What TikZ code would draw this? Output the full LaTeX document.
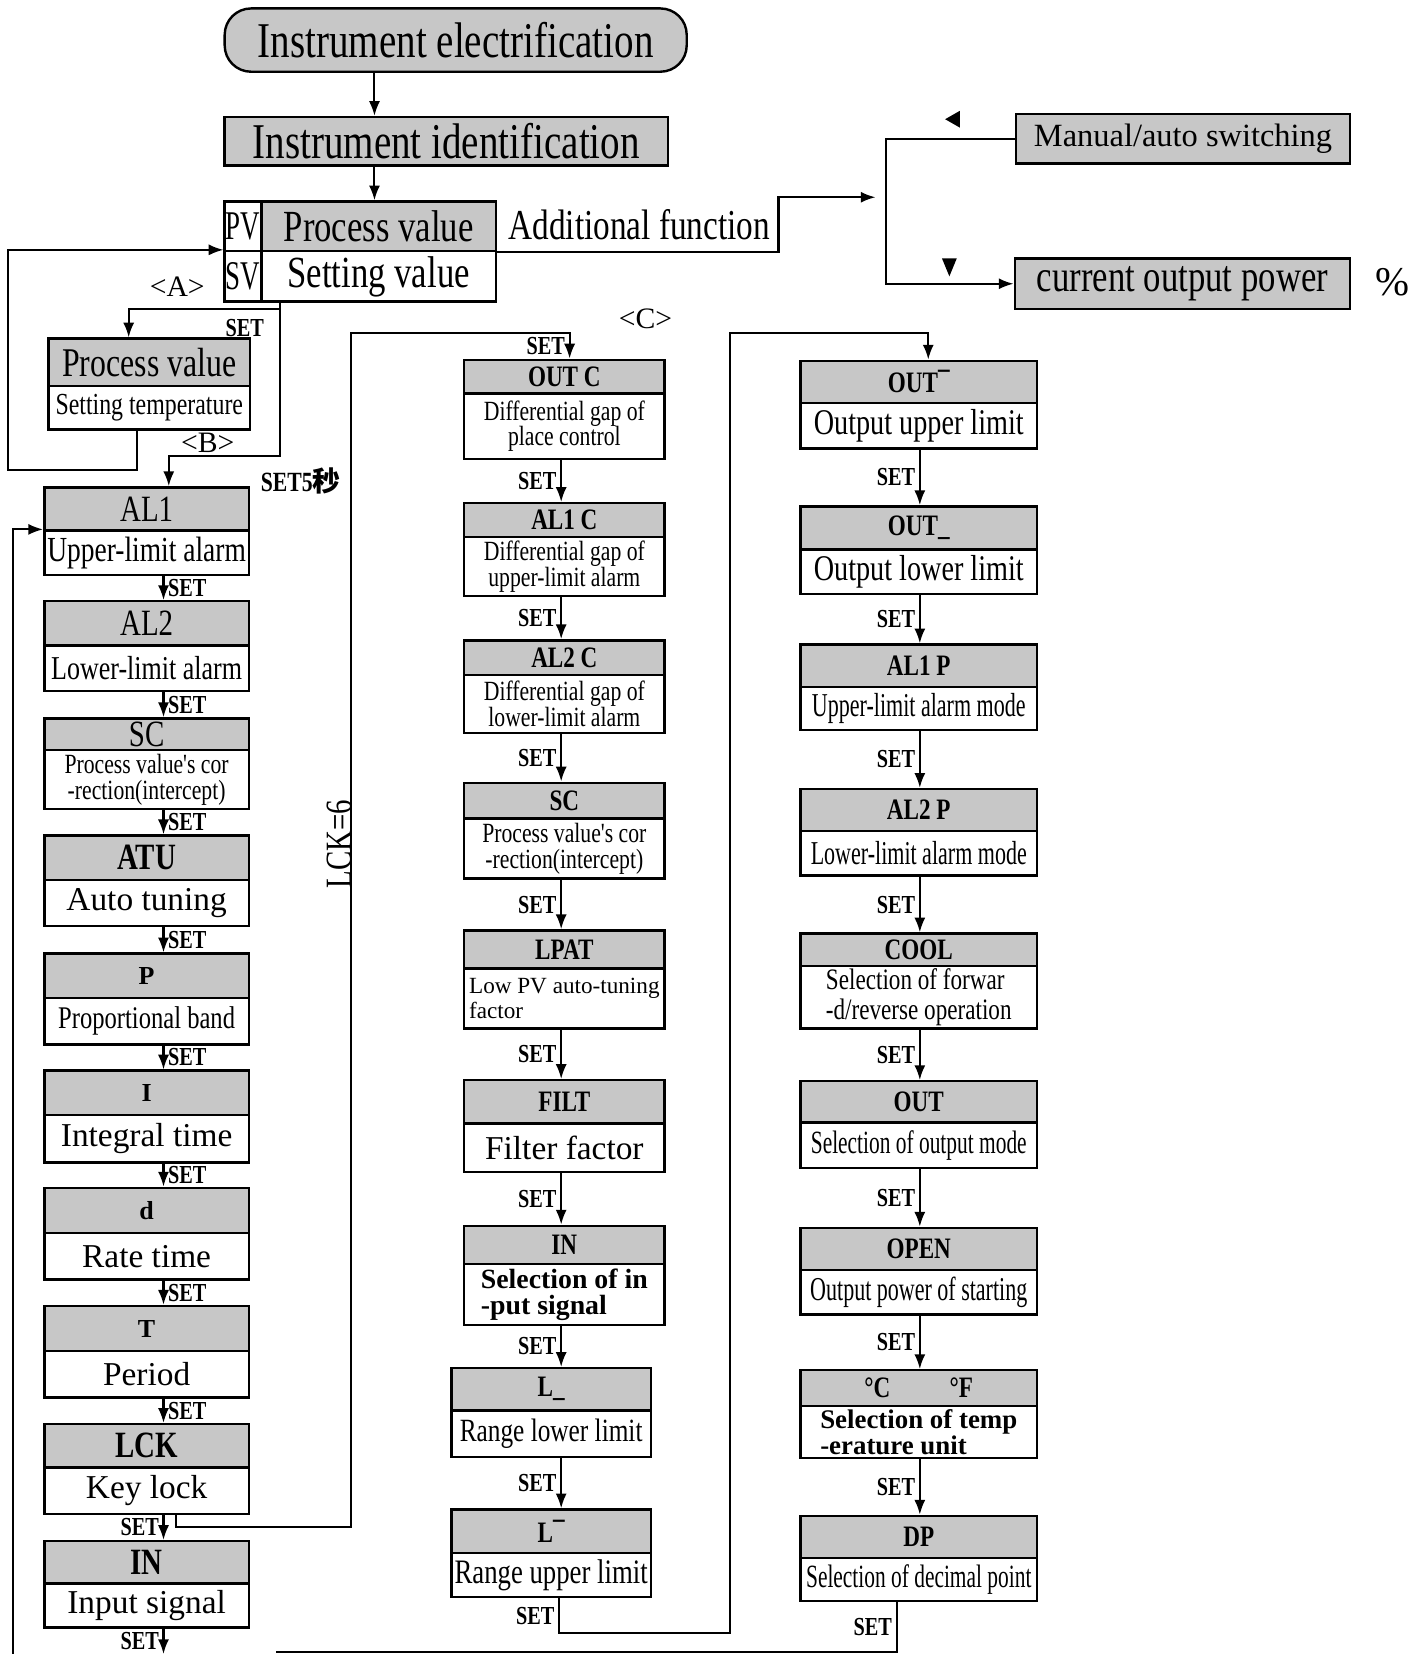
\documentclass[tikz,border=0pt]{standalone}
\usepackage{fontspec}
\setmainfont{Liberation Serif}
\newfontfamily\narrow[FakeStretch=0.78]{Liberation Serif}
\newfontfamily\tight[FakeStretch=0.66]{Liberation Serif}
\newfontfamily\cjk{Noto Sans CJK SC}
\usepackage{tikz}
\usetikzlibrary{arrows.meta}
\definecolor{dotGray}{gray}{0.78}
\newcommand{\fsz}[1]{\fontsize{#1}{#1}\selectfont}

\tikzset{
  head/.style={draw, line width=1.3pt, fill=dotGray, inner sep=0pt},
  body/.style={draw, line width=1.3pt, fill=white, inner sep=0pt, align=center},
  plate/.style={draw, line width=1.3pt, fill=dotGray, inner sep=0pt},
  cellhead/.style={font=\narrow\bfseries\fsz{16}},
  twoline/.style={font=\narrow\fontsize{15}{14}\selectfont},
  link/.style={line width=1.1pt},
  setlbl/.style={font=\narrow\bfseries\fsz{14}, inner sep=2pt},
}

% one menu entry: shaded code on top, meaning below
\def\colL{42}\def\colR{236}
\newcommand{\menubox}[8]{%
  \node[head, #5, minimum width={(\colR-\colL)*0.2mm}, minimum height={(#3-#2)*0.2mm}]
    (#1-t) at ({(\colL+\colR)/2},{(#2+#3)/2}) {#6};
  \node[body, #7, minimum width={(\colR-\colL)*0.2mm}, minimum height={(#4-#3)*0.2mm}]
    (#1) at ({(\colL+\colR)/2},{(#3+#4)/2}) {#8};
}

\begin{document}
\begin{tikzpicture}[x=0.2mm, y=-0.2mm, >={Latex[length=2.8mm, width=2.1mm]}]
  \useasboundingbox (0,0) rectangle (1344,1568);

  % start-up
  \node[plate, rounded corners=5mm, minimum width=87.6mm, minimum height=12mm, font=\narrow\fsz{27}] (elec) at (432,38) {Instrument electrification};
  \node[plate, minimum width=84mm, minimum height=9.2mm, font=\narrow\fsz{27}] (ident) at (423,134) {Instrument identification};
  \node[body, minimum width=7mm, minimum height=9.4mm, font=\tight\fsz{22}] (pvl) at (230.5,214.5) {PV};
  \node[head, minimum width=44.4mm, minimum height=9.4mm, font=\narrow\fsz{24}] (pvt) at (359,214.5) {Process value};
  \node[body, minimum width=7mm, minimum height=9.6mm, font=\tight\fsz{22}] (svl) at (230.5,262) {SV};
  \node[body, minimum width=44.4mm, minimum height=9.6mm, font=\narrow\fsz{24}] (svt) at (359,262) {Setting value};
  \node[font=\narrow\fsz{23}, anchor=west] (addf) at (476,213) {Additional function};

  % additional function
  \node[plate, minimum width=63.4mm, minimum height=9.4mm, font=\fsz{17.5}] (manual) at (1121.5,131.5) {Manual/auto switching};
  \node[plate, minimum width=63.6mm, minimum height=9.6mm, font=\narrow\fsz{24}] (power) at (1121,269) {current output power};
  \node[font=\fsz{22}] (pct) at (1320,268) {\%};
  \fill (896,113) -- (910,105) -- (910,121) -- cycle;
  \fill (893,245) -- (907,245) -- (900,262) -- cycle;

  % <A> and <B>
  \node[font=\fsz{16}] (tagA) at (168,272) {<A>};
  \def\colL{46}\def\colR{237}
  \menubox{pvs}{321}{366}{407}{font=\narrow\fsz{22}}{Process value}{font=\narrow\fsz{16.5}}{Setting temperature}
  \node[setlbl] (setA) at (232,311) {SET};
  \node[font=\fsz{16}] (tagB) at (197,420) {<B>};
  \node[font=\narrow\bfseries\fsz{15}] (set5) at (285,456) {SET5{\cjk 秒}};

  % first column
  \def\colL{42}\def\colR{236}
  \menubox{al1}{462}{503}{545}{font=\narrow\fsz{20}}{AL1}{font=\narrow\fsz{19}}{Upper-limit alarm}
  \menubox{al2}{570}{612}{655}{font=\narrow\fsz{20}}{AL2}{font=\narrow\fsz{18}}{Lower-limit alarm}
  \menubox{sca}{681}{711}{767}{font=\narrow\fsz{20}}{SC}{font=\narrow\fontsize{15}{14}\selectfont}{Process value's cor\\-rection(intercept)}
  \menubox{atu}{792}{834}{878}{font=\narrow\bfseries\fsz{20}}{ATU}{font=\fsz{18}}{Auto tuning}
  \menubox{pband}{904}{946}{990}{font=\bfseries\fsz{14}}{P}{font=\narrow\fsz{17}}{Proportional band}
  \menubox{itime}{1015}{1057}{1102}{font=\bfseries\fsz{14}}{I}{font=\fsz{18}}{Integral time}
  \menubox{dtime}{1126}{1169}{1213}{font=\bfseries\fsz{14}}{d}{font=\fsz{18}}{Rate time}
  \menubox{tper}{1238}{1281}{1325}{font=\bfseries\fsz{14}}{T}{font=\fsz{18}}{Period}
  \menubox{lck}{1350}{1391}{1435}{font=\narrow\bfseries\fsz{20}}{LCK}{font=\fsz{18}}{Key lock}
  \menubox{inl}{1461}{1501}{1543}{font=\narrow\bfseries\fsz{20}}{IN}{font=\fsz{18}}{Input signal}
  \node[font=\narrow\fsz{20}, rotate=90] (lck6) at (322,800) {LCK=6};
  \node[font=\fsz{16}] (tagC) at (612,302) {<C>};

  % second column
  \def\colL{440}\def\colR{630}
  \menubox{outc}{341}{373}{435}{cellhead}{OUT C}{twoline}{Differential gap of\\place control}
  \menubox{al1c}{477}{509}{565}{cellhead}{AL1 C}{twoline}{Differential gap of\\upper-limit alarm}
  \menubox{al2c}{607}{640}{695}{cellhead}{AL2 C}{twoline}{Differential gap of\\lower-limit alarm}
  \menubox{scb}{742}{776}{833}{cellhead}{SC}{twoline}{Process value's cor\\-rection(intercept)}
  \menubox{lpat}{882}{918}{975}{cellhead}{LPAT}{font=\fontsize{12.5}{14}\selectfont, align=left}{Low PV auto-tuning\\factor}
  \menubox{filt}{1024}{1065}{1111}{cellhead}{FILT}{font=\fsz{18}}{Filter factor}
  \menubox{inm}{1162}{1198}{1256}{cellhead}{IN}{font=\bfseries\fontsize{15}{14}\selectfont, align=left}{Selection of in\\-put signal}
  \def\colL{428}\def\colR{617}
  \menubox{llow}{1297}{1337}{1381}{cellhead}{L\_}{font=\narrow\fsz{17.5}}{Range lower limit}
  \menubox{lup}{1431}{1472}{1514}{cellhead}{L¯}{font=\narrow\fsz{18.5}}{Range upper limit}

  % third column
  \def\colL{759}\def\colR{983}
  \menubox{outu}{342}{382}{425}{cellhead}{OUT¯}{font=\narrow\fsz{19.5}}{Output upper limit}
  \menubox{outl}{480}{521}{563}{cellhead}{OUT\_}{font=\narrow\fsz{19.5}}{Output lower limit}
  \menubox{al1p}{611}{651}{692}{cellhead}{AL1 P}{font=\tight\fsz{18}}{Upper-limit alarm mode}
  \menubox{al2p}{748}{788}{830}{cellhead}{AL2 P}{font=\tight\fsz{18}}{Lower-limit alarm mode}
  \menubox{cool}{885}{916}{975}{cellhead}{COOL}{font=\narrow\fontsize{16}{16.5}\selectfont, align=left}{Selection of forwar\\-d/reverse operation}
  \menubox{outm}{1025}{1064}{1107}{cellhead}{OUT}{font=\tight\fsz{17.5}}{Selection of output mode}
  \menubox{open}{1164}{1204}{1246}{cellhead}{OPEN}{font=\tight\fsz{18}}{Output power of starting}
  \menubox{unit}{1299}{1333}{1382}{cellhead}{°C\qquad °F}{font=\bfseries\fontsize{14.5}{13}\selectfont, align=left}{Selection of temp\\-erature unit}
  \menubox{dp}{1437}{1477}{1518}{cellhead}{DP}{font=\tight\fsz{17.5}}{Selection of decimal point}

  % connectors
  \coordinate (xt) at (355,0);
  \draw[link,->] (elec.south -| xt) -- (ident.north -| xt);
  \draw[link,->] (ident.south -| xt) -- (pvt.north -| xt);

  \coordinate (afc) at (738,187);
  \coordinate (aftip) at (830,187);
  \coordinate (brx) at (840,0);
  \draw[link,->] (pvt.south east) -| (afc) -- (aftip);
  \draw[link,->] (manual.west) -| (brx |- power.west) -- (power.west);

  \coordinate (xs) at (265,0);
  \coordinate (junA) at (122,293);
  \coordinate (junB) at (160,432);
  \draw[link,->] (svt.south -| xs) |- (junA) -- (pvs-t.north -| junA);
  \draw[link,->] (svt.south -| xs) |- (junB) -- (al1-t.north -| junB);
  \coordinate (xp) at (130,0);
  \coordinate (loopL) at (8,446);
  \draw[link,->] (pvs.south -| xp) |- (loopL) |- (svl.north west);

  \coordinate (xa) at (155,0);
  \foreach \a/\b in {al1/al2, al2/sca, sca/atu, atu/pband, pband/itime, itime/dtime, dtime/tper, tper/lck}
    \draw[link,->] (\a.south -| xa) -- (\b-t.north -| xa) node[setlbl, midway, right] {SET};
  \draw[link,->] (lck.south -| xa) -- (inl-t.north -| xa) node[setlbl, midway, left] {SET};
  \coordinate (endA) at (155,1568);
  \draw[link,->] (inl.south -| endA) -- (endA) node[setlbl, midway, left] {SET};
  \coordinate (retL) at (12,1568);
  \draw[link,->] (retL) |- (al1.north west);

  \coordinate (xk) at (167,0);
  \coordinate (junC) at (333,1448);
  \coordinate (junD) at (540,316);
  \draw[link,->] (lck.south -| xk) |- (junC) |- (junD) -- node[setlbl, left] {SET} (outc-t.north -| junD);

  \coordinate (xb) at (532,0);
  \foreach \a/\b in {outc/al1c, al1c/al2c, al2c/scb, scb/lpat, lpat/filt, filt/inm, inm/llow, llow/lup}
    \draw[link,->] (\a.south -| xb) -- (\b-t.north -| xb) node[setlbl, midway, left] {SET};

  \coordinate (xu) at (530,0);
  \coordinate (junE) at (692,1548);
  \coordinate (junF) at (880,316);
  \draw[link,->] (lup.south -| xu) -- node[setlbl, left] {SET} (xu |- junE) -- (junE) |- (junF) -- (outu-t.north -| junF);

  \coordinate (xc) at (872,0);
  \foreach \a/\b in {outu/outl, outl/al1p, al1p/al2p, al2p/cool, cool/outm, outm/open, open/unit, unit/dp}
    \draw[link,->] (\a.south -| xc) -- (\b-t.north -| xc) node[setlbl, midway, left] {SET};

  \coordinate (xd) at (850,0);
  \coordinate (endB) at (262,1566);
  \draw[link] (dp.south -| xd) -- node[setlbl, left] {SET} (xd |- endB) -- (endB);
\end{tikzpicture}
\end{document}
